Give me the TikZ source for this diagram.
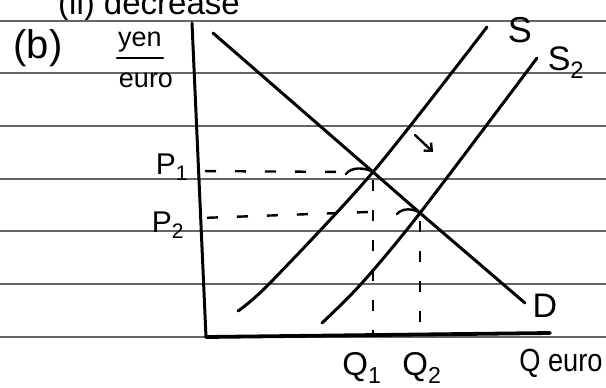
\documentclass[tikz,border=0pt]{standalone}
\usepackage{fontspec}
\setmainfont{Liberation Sans}
\usetikzlibrary{arrows.meta}
\newcommand{\handsize}[1]{\fontsize{#1}{#1}\selectfont}

\begin{document}
\begin{tikzpicture}[x=1pt,y=-1pt,
  ink/.style={line width=3pt,line cap=round},
  ruled/.style={line width=1.3pt,black!60},
  guide/.style={line width=2.4pt,dash pattern=on 11pt off 19pt},
  hand/.style={inner sep=0pt,font=\handsize{#1}}]
  \useasboundingbox[fill=white] (0,0) rectangle (606,388);
  \begin{scope}
    \clip (0,0) rectangle (606,388);
    \node[hand=33,anchor=base west] (part) at (58,15) {(ii) decrease};
  \end{scope}
  \foreach \y in {21,73,126,179,231,284,337}
    \draw[ruled] (0,\y)--(606,\y);
  \coordinate (top) at (192,23);
  \coordinate (O) at (206,337);
  \coordinate (right) at (550,333);
  \draw[ink] (top)--(O);
  \draw[ink,line width=3.8pt] (O)--(right);
  \coordinate (E1) at (373,172);
  \coordinate (E2) at (420,213);
  \coordinate (P1) at (199,171);
  \coordinate (P2) at (201,218);
  \draw[ink] (213,33)--(E1)--(E2)--(525,303);
  \draw[ink] plot[smooth] coordinates {(238,311) (270,283) (E1) (487,27)};
  \draw[ink] plot[smooth] coordinates {(322,323) (362,283) (E2) (537,58)};
  \draw[guide,dash phase=-6pt] (P1)--(346,172);
  \draw[guide,dash phase=-6pt] (P2)--(368,212);
  \draw[ink,line width=2.4pt] (346,174) .. controls (351,167) and (364,167) .. (E1);
  \draw[ink,line width=2.4pt] (397,214) .. controls (402,208) and (413,208) .. (E2);
  \draw[guide,dash phase=-8pt] (E1)--(E1 |- O);
  \draw[guide,dash phase=-8pt] (E2)--(E2 |- O);
  \draw[ink,line width=2.4pt,-{Straight Barb[length=6pt,width=11pt]}] (415,135)--(433,152);
  \node[hand=40] (b) at (38,48) {(b)};
  \node[hand=27] (yen) at (140,42) {yen};
  \draw[ink,line width=2.2pt] (117,58)--(163,58);
  \node[hand=27] (euro) at (146,80) {euro};
  \node[hand=30] (p1) at (172,167) {P\textsubscript{1}};
  \node[hand=30] (p2) at (168,225) {P\textsubscript{2}};
  \node[hand=36] (s) at (520,30) {S};
  \node[hand=34] (s2) at (566,63) {S\textsubscript{2}};
  \node[hand=34] (d) at (545,306) {D};
  \node[hand=33] (q1) at (362,368) {Q\textsubscript{1}};
  \node[hand=33] (q2) at (422,368) {Q\textsubscript{2}};
  \node[hand=32] (qe) at (561,363) {\scalebox{0.85}[1]{Q euro}};
\end{tikzpicture}
\end{document}
